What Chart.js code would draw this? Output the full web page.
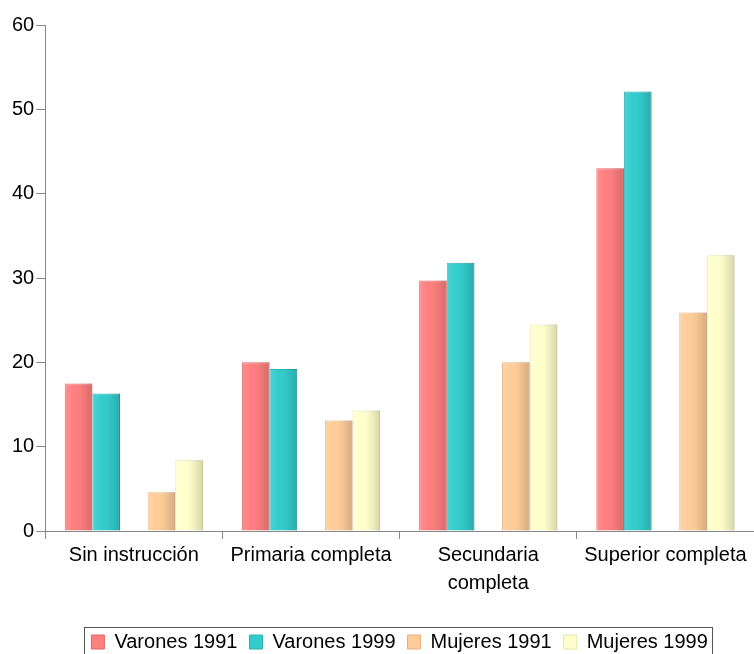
<!DOCTYPE html>
<html>
<head>
<meta charset="utf-8">
<script src="https://cdn.jsdelivr.net/npm/chart.js@4/dist/chart.umd.min.js"></script>
<style>
  html, body { margin: 0; padding: 0; background: #fff; }
  #wrap { width: 754px; height: 654px; }
</style>
</head>
<body>
<div id="wrap"><canvas id="myChart" width="754" height="654"></canvas></div>
<script>
// data
const categories = ['Sin instrucción', 'Primaria completa', ['Secundaria', 'completa'], 'Superior completa'];
const varones1991 = [17.5, 20.0, 29.7, 43.0];
const varones1999 = [16.3, 19.2, 31.8, 52.1];
const mujeres1991 = [4.6, 13.1, 20.0, 25.9];
const mujeres1999 = [8.4, 14.3, 24.5, 32.7];
const emptySlot = [null, null, null, null];
const yTicks = [0, 10, 20, 30, 40, 50, 60];

const axisGray = '#888888';
const txtFont = { family: 'Liberation Sans', size: 20 };

// light/dark shading over each bar, like the cylinder look
const shadePlugin = {
  id: 'shade',
  afterDatasetsDraw(chart) {
    const ctx = chart.ctx;
    chart.data.datasets.forEach((ds, di) => {
      const meta = chart.getDatasetMeta(di);
      meta.data.forEach(bar => {
        if (bar.skip || bar.y == null || isNaN(bar.y)) return;
        const l = bar.x - bar.width / 2, r = bar.x + bar.width / 2;
        const g = ctx.createLinearGradient(l, 0, r, 0);
        g.addColorStop(0, 'rgba(255,255,255,0.12)');
        g.addColorStop(0.35, 'rgba(255,255,255,0)');
        g.addColorStop(0.6, 'rgba(0,0,0,0.03)');
        g.addColorStop(1, 'rgba(0,0,0,0.16)');
        ctx.save();
        ctx.fillStyle = g;
        ctx.fillRect(l, bar.y, bar.width, bar.base - bar.y);
        ctx.restore();
      });
    });
  },
  afterDraw(chart) {
    // frame round the legend
    const boxes = chart.legend.legendHitBoxes;
    if (!boxes || !boxes.length) return;
    const first = boxes[0], last = boxes[boxes.length - 1];
    const ctx = chart.ctx;
    ctx.save();
    ctx.strokeStyle = '#555';
    ctx.lineWidth = 1;
    ctx.strokeRect(Math.round(first.left) - 6.5, Math.round(first.top) - 4.5,
      Math.round(last.left + last.width - first.left) + 12, first.height + 12);
    ctx.restore();
  }
};

var ctx = document.getElementById('myChart').getContext('2d');
var myChart = new Chart(ctx, {
  type: 'bar',
  data: {
    labels: categories,
    datasets: [
      { label: 'Varones 1991', data: varones1991, backgroundColor: '#FF7F7F', borderColor: '#E06868', borderWidth: 1 },
      { label: 'Varones 1999', data: varones1999, backgroundColor: '#33CCCC', borderColor: '#2AAFAF', borderWidth: 1 },
      { label: '', data: emptySlot, backgroundColor: '#999', borderWidth: 0 },
      { label: 'Mujeres 1991', data: mujeres1991, backgroundColor: '#FFCC99', borderColor: '#E8B07E', borderWidth: 1 },
      { label: 'Mujeres 1999', data: mujeres1999, backgroundColor: '#FFFFCC', borderColor: '#E6E6A8', borderWidth: 1 }
    ]
  },
  options: {
    responsive: false,
    animation: false,
    devicePixelRatio: 1,
    layout: { padding: { top: 25, right: 0, left: 10, bottom: -8 } },
    datasets: { bar: { categoryPercentage: 0.78, barPercentage: 1.0 } },
    plugins: {
      tooltip: { enabled: false },
      legend: {
        position: 'bottom',
        fullSize: false,
        labels: {
          filter: item => item.text !== '',
          font: txtFont,
          color: '#000',
          boxWidth: 13,
          boxHeight: 14,
          padding: 12,
          useBorderRadius: false
        }
      }
    },
    scales: {
      x: {
        offset: true,
        afterFit: axis => { axis.height += 21; },
        grid: { offset: true, drawOnChartArea: false, color: axisGray, tickLength: 8 },
        border: { color: axisGray },
        ticks: { font: { family: 'Liberation Sans', size: 20, lineHeight: 1.4 }, color: '#000', maxRotation: 0, autoSkip: false, padding: 2 }
      },
      y: {
        min: yTicks[0],
        max: yTicks[yTicks.length - 1],
        afterBuildTicks: axis => { axis.ticks = yTicks.map(v => ({ value: v })); },
        grid: { drawOnChartArea: false, color: axisGray, tickLength: 9 },
        border: { color: axisGray },
        ticks: { font: txtFont, color: '#000', padding: 2 }
      }
    }
  },
  plugins: [shadePlugin]
});
</script>
</body>
</html>
